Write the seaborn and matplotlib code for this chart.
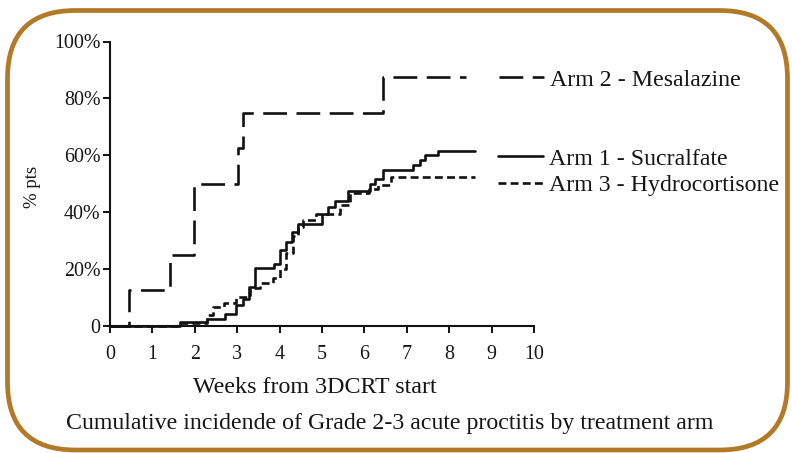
import numpy as np
import pandas as pd
import matplotlib
matplotlib.use("Agg")
import matplotlib.pyplot as plt
from matplotlib.lines import Line2D
from matplotlib.patches import FancyBboxPatch
import seaborn as sns

# ---------------- data ----------------
arm2_weeks = [0, 0.45, 1.41, 1.99, 3.01, 3.14, 6.44, 8.40]
arm2_pct = [0, 12.5, 25, 50, 62.5, 75, 87.5, 87.5]

arm1_weeks = [0, 1.65, 2.28, 2.72, 2.98, 3.14, 3.28, 3.41, 3.87, 4.00, 4.14,
              4.30, 4.43, 5.00, 5.14, 5.30, 5.61, 6.14, 6.24, 6.44, 7.14,
              7.30, 7.42, 7.73, 8.60]
arm1_pct = [0, 1.3, 2.6, 4.3, 7.3, 9.4, 13.8, 20.4, 21.8, 26.7, 29.6,
            33.0, 36.0, 39.2, 42.0, 44.0, 47.6, 50.0, 51.8, 55.0, 56.5,
            58.3, 60.0, 61.6, 61.6]

arm3_weeks = [0, 1.57, 2.28, 2.43, 2.70, 2.98, 3.30, 3.53, 3.85, 4.00, 4.16,
              4.32, 4.43, 4.55, 4.87, 5.42, 5.65, 6.12, 6.32, 6.63, 8.60]
arm3_pct = [0, 0.9, 3.9, 6.8, 8.0, 10.3, 13.5, 15.0, 16.7, 20.0, 25.5,
            31.6, 34.9, 37.2, 39.2, 42.5, 46.6, 48.3, 49.5, 52.2, 52.2]

arm_names = ["Arm 2 - Mesalazine", "Arm 1 - Sucralfate", "Arm 3 - Hydrocortisone"]
x_ticks = [0, 1, 2, 3, 4, 5, 6, 7, 8, 9, 10]
y_ticks = [0, 20, 40, 60, 80, 100]
y_tick_labels = ["0", "20%", "40%", "60%", "80%", "100%"]

x_label = "Weeks from 3DCRT start"
y_label = "% pts"
caption = "Cumulative incidende of Grade 2-3 acute proctitis by treatment arm"

# ---------------- style ----------------
sns.set_style("ticks")
plt.rcParams["font.family"] = ["Liberation Serif", "DejaVu Serif"]
plt.rcParams["text.color"] = "#151515"
plt.rcParams["axes.labelcolor"] = "#151515"
plt.rcParams["xtick.color"] = "#151515"
plt.rcParams["ytick.color"] = "#151515"

ink = "#111111"
lw = 1.9
dash_map = {
    arm_names[0]: (9.0, 3.6),
    arm_names[1]: "",
    arm_names[2]: (3.0, 1.6),
}

df = pd.concat([
    pd.DataFrame({"weeks": arm2_weeks, "pct": arm2_pct, "arm": arm_names[0]}),
    pd.DataFrame({"weeks": arm1_weeks, "pct": arm1_pct, "arm": arm_names[1]}),
    pd.DataFrame({"weeks": arm3_weeks, "pct": arm3_pct, "arm": arm_names[2]}),
], ignore_index=True)

fig = plt.figure(figsize=(7.92, 4.53), dpi=100)
fig.patch.set_facecolor("white")
ax = fig.add_axes([110 / 792, 1 - 326 / 453, 424 / 792, (326 - 41.5) / 453])

sns.lineplot(data=df, x="weeks", y="pct", hue="arm", style="arm",
             palette={n: ink for n in arm_names}, dashes=dash_map,
             estimator=None, sort=False, drawstyle="steps-post",
             linewidth=lw, legend=False, ax=ax, clip_on=False)

ax.set_xlim(0, 10)
ax.set_ylim(0, 100)
ax.set_xticks(x_ticks)
ax.set_xticklabels([str(t) for t in x_ticks])
ax.set_yticks(y_ticks)
ax.set_yticklabels(y_tick_labels)
ax.tick_params(axis="both", direction="out", length=5, width=1.4,
               labelsize=14.4, colors=ink)
ax.tick_params(axis="x", pad=8.5)
ax.tick_params(axis="y", pad=2)
for lab in ax.get_xticklabels() + ax.get_yticklabels():
    lab.set_color("#151515")
sns.despine(ax=ax)
for s in ("left", "bottom"):
    ax.spines[s].set_linewidth(1.5)
    ax.spines[s].set_color(ink)
ax.set_facecolor("none")

ax.set_xlabel(x_label, fontsize=17.3)
ax.xaxis.label.set_va("baseline")
ax.xaxis.set_label_coords((315 - 110) / 424, (326 - 393) / 284.5)
ax.set_ylabel(y_label, fontsize=13.5)
ax.yaxis.set_label_coords((41 - 110) / 424, 0.49)

# legends (two groups, as in the original)
def handle(name):
    return Line2D([], [], color=ink, linewidth=lw,
                  linestyle=(0, dash_map[name]) if dash_map[name] else "-")

leg1 = fig.legend([handle(arm_names[0])], [arm_names[0]],
                  loc="center left", bbox_to_anchor=(499 / 792, 1 - 80 / 453),
                  frameon=False, fontsize=17.2, handlelength=1.9,
                  handletextpad=0.22, borderpad=0, borderaxespad=0)
leg2 = fig.legend([handle(arm_names[1]), handle(arm_names[2])],
                  [arm_names[1], arm_names[2]],
                  loc="center left", bbox_to_anchor=(498 / 792, 1 - 172 / 453),
                  frameon=False, fontsize=17.2, handlelength=1.9,
                  handletextpad=0.24, borderpad=0, borderaxespad=0,
                  labelspacing=0.2)

fig.text(390 / 792, 1 - 429 / 453, caption, ha="center", va="baseline",
         fontsize=17.2)

# rounded frame
frame = FancyBboxPatch((7.5, 3), 780, 439.5,
                       boxstyle="round,pad=0,rounding_size=68",
                       transform=None, facecolor="none",
                       edgecolor="#B27A27", linewidth=3.4)
fig.patches.append(frame)

fig.savefig("out.png", dpi=100)
